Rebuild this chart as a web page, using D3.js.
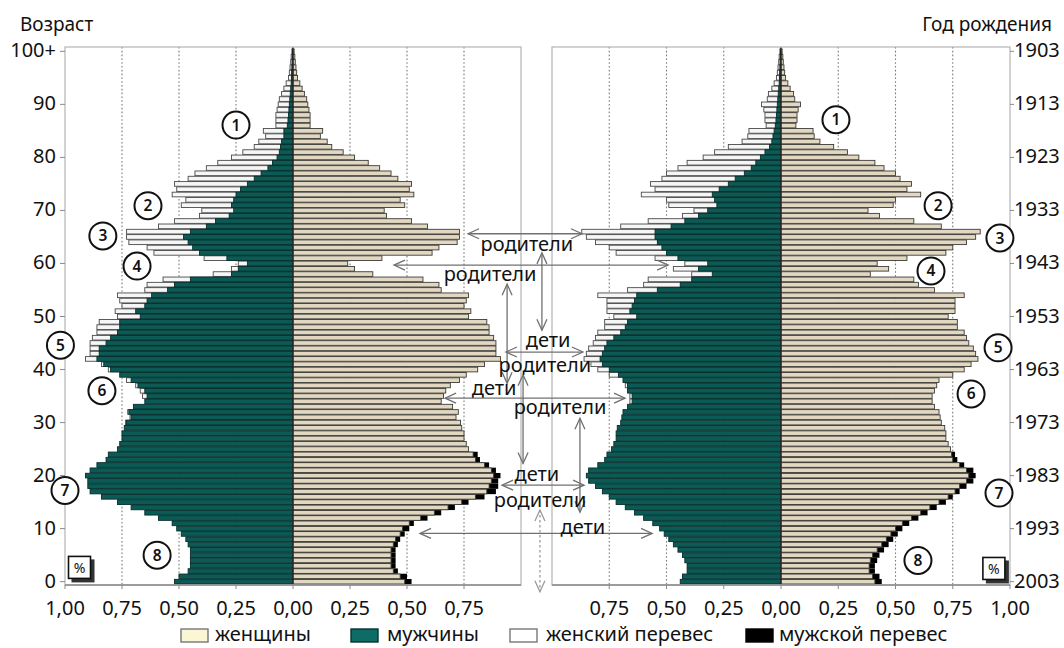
<!DOCTYPE html>
<html>
<head>
<meta charset="utf-8">
<script src="https://cdn.jsdelivr.net/npm/d3@7"></script>
<style>
  body { margin: 0; background: #fff; }
  text { font-family: "Noto Sans", "Open Sans", sans-serif; fill: #111; }
</style>
</head>
<body>
<svg id="chart" width="1064" height="648"></svg>
<script>
// возраст 0..100 (100 = 100+)
const ages = d3.range(0, 101);

// левая пирамида: доля, % от населения
const leftWomen = [
  0.49,0.47,0.44,0.43,0.43,0.43,0.43,0.44,0.45,0.47,
  0.48,0.51,0.56,0.62,0.68,0.74,0.80,0.85,0.86,0.87,
  0.88,0.87,0.84,0.80,0.79,0.77,0.76,0.75,0.75,0.74,
  0.735,0.715,0.725,0.70,0.65,0.66,0.67,0.69,0.73,0.76,
  0.81,0.84,0.91,0.89,0.89,0.89,0.88,0.86,0.86,0.85,
  0.77,0.78,0.75,0.76,0.77,0.65,0.64,0.57,0.35,0.27,
  0.24,0.39,0.61,0.64,0.72,0.73,0.73,0.59,0.52,0.41,
  0.40,0.49,0.47,0.53,0.51,0.52,0.46,0.43,0.38,0.33,
  0.27,0.22,0.17,0.15,0.12,0.13,0.075,0.075,0.075,0.07,
  0.065,0.06,0.05,0.04,0.03,0.02,0.016,0.013,0.01,0.008,
  0.005];
const leftMen = [
  0.52,0.50,0.46,0.45,0.45,0.45,0.45,0.46,0.47,0.49,
  0.51,0.53,0.59,0.65,0.71,0.77,0.84,0.89,0.90,0.90,
  0.91,0.89,0.86,0.82,0.81,0.77,0.76,0.75,0.75,0.74,
  0.73,0.71,0.72,0.70,0.65,0.64,0.65,0.68,0.71,0.76,
  0.80,0.83,0.86,0.85,0.85,0.82,0.80,0.77,0.76,0.76,
  0.67,0.69,0.65,0.64,0.62,0.55,0.52,0.45,0.27,0.24,
  0.20,0.29,0.41,0.44,0.46,0.48,0.45,0.38,0.34,0.28,
  0.26,0.27,0.26,0.25,0.23,0.20,0.17,0.14,0.11,0.09,
  0.07,0.06,0.055,0.05,0.04,0.04,0.025,0.022,0.02,0.018,
  0.016,0.014,0.012,0.01,0.008,0.007,0.006,0.005,0.004,0.003,
  0.002];

// правая пирамида
const rightWomen = [
  0.41,0.40,0.385,0.385,0.39,0.40,0.42,0.44,0.46,0.48,
  0.50,0.53,0.57,0.61,0.65,0.69,0.73,0.76,0.78,0.81,
  0.82,0.81,0.78,0.75,0.745,0.74,0.73,0.72,0.72,0.715,
  0.70,0.695,0.69,0.67,0.66,0.66,0.67,0.68,0.69,0.75,
  0.80,0.83,0.86,0.85,0.84,0.82,0.81,0.80,0.77,0.77,
  0.73,0.76,0.76,0.76,0.80,0.67,0.60,0.58,0.39,0.47,
  0.42,0.55,0.72,0.75,0.81,0.85,0.87,0.70,0.58,0.43,
  0.38,0.49,0.50,0.61,0.55,0.57,0.52,0.50,0.45,0.41,
  0.34,0.29,0.23,0.17,0.145,0.14,0.065,0.07,0.07,0.075,
  0.085,0.06,0.055,0.04,0.03,0.02,0.016,0.013,0.01,0.008,
  0.005];
const rightMen = [
  0.44,0.43,0.41,0.41,0.42,0.43,0.45,0.47,0.49,0.51,
  0.53,0.56,0.60,0.64,0.68,0.72,0.75,0.78,0.81,0.84,
  0.85,0.84,0.80,0.77,0.76,0.74,0.73,0.72,0.72,0.715,
  0.70,0.695,0.69,0.67,0.65,0.65,0.67,0.67,0.69,0.71,
  0.75,0.78,0.79,0.78,0.77,0.76,0.73,0.70,0.68,0.67,
  0.63,0.66,0.65,0.64,0.63,0.54,0.44,0.39,0.30,0.36,
  0.32,0.45,0.50,0.52,0.54,0.55,0.55,0.48,0.42,0.36,
  0.32,0.28,0.29,0.30,0.27,0.23,0.20,0.16,0.13,0.11,
  0.09,0.07,0.05,0.04,0.035,0.03,0.025,0.022,0.02,0.018,
  0.016,0.014,0.012,0.01,0.008,0.007,0.006,0.005,0.004,0.003,
  0.002];

// подписи осей
const leftTicks = [-1, -0.75, -0.5, -0.25, 0, 0.25, 0.5, 0.75];
const rightTicks = [-0.75, -0.5, -0.25, 0, 0.25, 0.5, 0.75, 1];
const gridValues = [-0.75, -0.5, -0.25, 0.25, 0.5, 0.75];
const ageTicks = [0, 10, 20, 30, 40, 50, 60, 70, 80, 90, 100];
const ageLabels = ["0", "10", "20", "30", "40", "50", "60", "70", "80", "90", "100+"];
const yearLabels = ["2003", "1993", "1983", "1973", "1963", "1953", "1943", "1933", "1923", "1913", "1903"];
const legendLabels = ["женщины", "мужчины", "женский перевес", "мужской перевес"];

const colors = {
  women: "#e2d8c2", womenStroke: "#3c3b38",
  men: "#0c5a55", menStroke: "#052f2b",
  femaleSurplus: "#f6f6f6", fsStroke: "#4a4a4a",
  maleSurplus: "#000000",
  legendWomen: "#fbf6d4"
};

const svg = d3.select("#chart");
const frameTop = 47, frameBottom = 585;

const xL = d3.scaleLinear().domain([-1, 1]).range([65, 521]);
const xR = d3.scaleLinear().domain([-1, 1]).range([552, 1010]);
const y = d3.scaleBand().domain(ages).range([584, 49]).paddingInner(0.12);
const bw = y.bandwidth();
const yAge = d3.scaleLinear().domain([0, 100]).range([y(0) + bw / 2, y(100) + bw / 2]);

const fmt = v => Math.abs(v).toFixed(2).replace(".", ",");

const panels = [
  { x: xL, men: leftMen, women: leftWomen, ticks: leftTicks },
  { x: xR, men: rightMen, women: rightWomen, ticks: rightTicks }
];

panels.forEach(p => {
  const g = svg.append("g");
  const xs = p.x;
  const rows = ages.map(a => ({ age: a, m: p.men[a], f: p.women[a] }));

  // пунктирная сетка
  g.selectAll("line.grid").data(gridValues).join("line")
    .attr("class", "grid")
    .attr("x1", d => xs(d)).attr("x2", d => xs(d))
    .attr("y1", frameTop).attr("y2", frameBottom)
    .attr("stroke", "#7a7a7a").attr("stroke-width", 1.1)
    .attr("stroke-dasharray", "1.6,2.2");

  // женский перевес (слева, за мужчинами)
  g.selectAll("rect.fs").data(rows.filter(d => d.f > d.m)).join("rect")
    .attr("class", "fs")
    .attr("x", d => xs(-d.f)).attr("width", d => xs(0) - xs(-d.f))
    .attr("y", d => y(d.age)).attr("height", bw)
    .attr("fill", colors.femaleSurplus).attr("stroke", colors.fsStroke).attr("stroke-width", 0.9);

  // мужчины
  g.selectAll("rect.m").data(rows).join("rect")
    .attr("class", "m")
    .attr("x", d => xs(-d.m)).attr("width", d => xs(0) - xs(-d.m))
    .attr("y", d => y(d.age)).attr("height", bw)
    .attr("fill", colors.men).attr("stroke", colors.menStroke).attr("stroke-width", 0.9);

  // мужской перевес (справа, за женщинами)
  g.selectAll("rect.ms").data(rows.filter(d => d.m > d.f)).join("rect")
    .attr("class", "ms")
    .attr("x", xs(0)).attr("width", d => xs(d.m) - xs(0))
    .attr("y", d => y(d.age) - 0.3).attr("height", bw + 0.6)
    .attr("fill", colors.maleSurplus);

  // женщины
  g.selectAll("rect.w").data(rows).join("rect")
    .attr("class", "w")
    .attr("x", xs(0)).attr("width", d => xs(d.f) - xs(0))
    .attr("y", d => y(d.age)).attr("height", bw)
    .attr("fill", colors.women).attr("stroke", colors.womenStroke).attr("stroke-width", 0.9);

  // центральная линия
  g.append("line")
    .attr("x1", xs(0)).attr("x2", xs(0))
    .attr("y1", frameTop).attr("y2", y(0) + bw)
    .attr("stroke", "#222").attr("stroke-width", 1.2);

  // рамка
  g.append("rect")
    .attr("x", xs(-1)).attr("y", frameTop)
    .attr("width", xs(1) - xs(-1)).attr("height", frameBottom - frameTop)
    .attr("fill", "none").attr("stroke", "#b4b4b4").attr("stroke-width", 1.2);

  // нижняя ось
  g.append("line")
    .attr("x1", xs(-1)).attr("x2", xs(1))
    .attr("y1", frameBottom).attr("y2", frameBottom)
    .attr("stroke", "#8a8a8a").attr("stroke-width", 1.4);
  g.selectAll("line.xt").data(p.ticks).join("line")
    .attr("class", "xt")
    .attr("x1", d => xs(d)).attr("x2", d => xs(d))
    .attr("y1", frameBottom).attr("y2", frameBottom + 4)
    .attr("stroke", "#8a8a8a");
  g.selectAll("text.xl").data(p.ticks).join("text")
    .attr("class", "xl")
    .attr("x", d => xs(d)).attr("y", 615)
    .attr("text-anchor", "middle").attr("font-size", 20)
    .text(fmt);
});

// шкала возраста слева
svg.selectAll("line.yt").data(ageTicks).join("line")
  .attr("class", "yt")
  .attr("x1", xL(-1) - 5).attr("x2", xL(-1))
  .attr("y1", d => yAge(d)).attr("y2", d => yAge(d))
  .attr("stroke", "#8a8a8a");
svg.selectAll("text.age").data(ageTicks).join("text")
  .attr("class", "age")
  .attr("x", 56).attr("y", d => yAge(d) + 6)
  .attr("text-anchor", "end").attr("font-size", 20)
  .text((d, i) => ageLabels[i]);

// шкала годов рождения справа
svg.selectAll("line.yr").data(ageTicks).join("line")
  .attr("class", "yr")
  .attr("x1", xR(1)).attr("x2", xR(1) + 4)
  .attr("y1", d => yAge(d)).attr("y2", d => yAge(d))
  .attr("stroke", "#8a8a8a");
svg.selectAll("text.year").data(ageTicks).join("text")
  .attr("class", "year")
  .attr("x", 1014).attr("y", d => yAge(d) + 6)
  .attr("font-size", 20)
  .text((d, i) => yearLabels[i]);

svg.append("text").attr("x", 20).attr("y", 31).attr("font-size", 19).text("Возраст");
svg.append("text").attr("x", 1052).attr("y", 31).attr("font-size", 19)
  .attr("text-anchor", "end").text("Год рождения");

// --- аннотации ---
const pos = (panel, v, age) => [panel === "L" ? xL(v) : xR(v), yAge(age)];

const circles = [
  { p: "L", v: -0.25, age: 86.1, t: "1" }, { p: "L", v: -0.636, age: 70.9, t: "2" },
  { p: "L", v: -0.834, age: 65.2, t: "3" }, { p: "L", v: -0.684, age: 59.5, t: "4" },
  { p: "L", v: -1.02, age: 44.6, t: "5" }, { p: "L", v: -0.838, age: 36.0, t: "6" },
  { p: "L", v: -1.0, age: 17.2, t: "7" }, { p: "L", v: -0.596, age: 5.0, t: "8" },
  { p: "R", v: 0.24, age: 87.1, t: "1" }, { p: "R", v: 0.686, age: 70.9, t: "2" },
  { p: "R", v: 0.956, age: 64.8, t: "3" }, { p: "R", v: 0.655, age: 58.6, t: "4" },
  { p: "R", v: 0.948, age: 44.1, t: "5" }, { p: "R", v: 0.83, age: 35.4, t: "6" },
  { p: "R", v: 0.952, age: 16.7, t: "7" }, { p: "R", v: 0.598, age: 4.0, t: "8" }
];

const arrows = [
  { a: ["L", 0.768, 65.6], b: ["R", -0.869, 65.6] },
  { a: ["L", 0.443, 59.7], b: ["R", -0.493, 59.7] },
  { a: ["L", 0.934, 43.3], b: ["R", -0.865, 43.3] },
  { a: ["L", 0.667, 34.6], b: ["R", -0.681, 34.6] },
  { a: ["L", 0.917, 18.2], b: ["R", -0.86, 18.2] },
  { a: ["L", 0.557, 9.1], b: ["R", -0.563, 9.1] },
  { a: ["R", -1.044, 62.0], b: ["R", -1.044, 47.4] },
  { a: ["L", 0.939, 56.1], b: ["L", 0.939, 37.4] },
  { a: ["L", 1.009, 39.0], b: ["L", 1.009, 22.3] },
  { a: ["R", -0.878, 30.8], b: ["R", -0.878, 13.1] },
  { a: ["L", 1.083, 13.5], b: ["L", 1.083, -1.9], dash: true }
];

const notes = [
  { p: "L", v: 1.026, age: 63.5, t: "родители" },
  { p: "L", v: 0.864, age: 57.8, t: "родители" },
  { p: "R", v: -1.017, age: 45.4, t: "дети" },
  { p: "R", v: -1.031, age: 40.6, t: "родители" },
  { p: "L", v: 0.882, age: 36.3, t: "дети" },
  { p: "R", v: -0.965, age: 32.7, t: "родители" },
  { p: "R", v: -1.066, age: 20.2, t: "дети" },
  { p: "R", v: -1.052, age: 15.3, t: "родители" },
  { p: "R", v: -0.865, age: 10.2, t: "дети" }
];

const ann = svg.append("g");

function chevron(px, py, qx, qy, color) {
  const len = Math.hypot(px - qx, py - qy);
  const ux = (px - qx) / len, uy = (py - qy) / len;
  const nx = -uy, ny = ux;
  const L = 11, S = 5;
  ann.append("path")
    .attr("d", `M${px - L * ux + S * nx},${py - L * uy + S * ny}L${px},${py}L${px - L * ux - S * nx},${py - L * uy - S * ny}`)
    .attr("fill", "none").attr("stroke", color).attr("stroke-width", 1.3);
}

arrows.forEach(d => {
  const [x1, y1] = pos(...d.a), [x2, y2] = pos(...d.b);
  const color = d.dash ? "#9a9a9a" : "#707070";
  ann.append("line")
    .attr("x1", x1).attr("y1", y1).attr("x2", x2).attr("y2", y2)
    .attr("stroke", color).attr("stroke-width", 1.3)
    .attr("stroke-dasharray", d.dash ? "2.5,2.5" : null);
  chevron(x1, y1, x2, y2, color);
  chevron(x2, y2, x1, y1, color);
});

notes.forEach(d => {
  const [x, yy] = pos(d.p, d.v, d.age);
  ann.append("text").attr("x", x).attr("y", yy + 6)
    .attr("text-anchor", "middle").attr("font-size", 20).text(d.t);
});

circles.forEach(d => {
  const [x, yy] = pos(d.p, d.v, d.age);
  ann.append("circle").attr("cx", x).attr("cy", yy).attr("r", 13.5)
    .attr("fill", "#fff").attr("stroke", "#111").attr("stroke-width", 2);
  ann.append("text").attr("x", x).attr("y", yy + 5.5)
    .attr("text-anchor", "middle").attr("font-size", 15.5).attr("font-weight", 600).text(d.t);
});

// значки «%»
[["L", -0.932, 2.5], ["R", 0.934, 2.3]].forEach(d => {
  const [x, yy] = pos(...d);
  ann.append("rect").attr("x", x - 9).attr("y", yy - 9).attr("width", 23).attr("height", 23)
    .attr("fill", "#333");
  ann.append("rect").attr("x", x - 12).attr("y", yy - 12).attr("width", 22).attr("height", 22)
    .attr("fill", "#fff").attr("stroke", "#111").attr("stroke-width", 1.6);
  ann.append("text").attr("x", x - 1).attr("y", yy + 4.5)
    .attr("text-anchor", "middle").attr("font-size", 14).text("%");
});

// легенда
const legendBoxes = [
  { x: 181, fill: colors.legendWomen, stroke: "#777" },
  { x: 351, fill: "#0f6b66", stroke: "#06332f" },
  { x: 510, fill: "#ffffff", stroke: "#777" },
  { x: 746, fill: "#000000", stroke: "#000" }
];
const legendText = [215, 387, 546, 779];
const lg = svg.append("g");
legendBoxes.forEach((b, i) => {
  lg.append("rect").attr("x", b.x).attr("y", 629).attr("width", 27).attr("height", 13)
    .attr("fill", b.fill).attr("stroke", b.stroke).attr("stroke-width", 1.4);
  lg.append("text").attr("x", legendText[i]).attr("y", 641).attr("font-size", 20).text(legendLabels[i]);
});
</script>
</body>
</html>
